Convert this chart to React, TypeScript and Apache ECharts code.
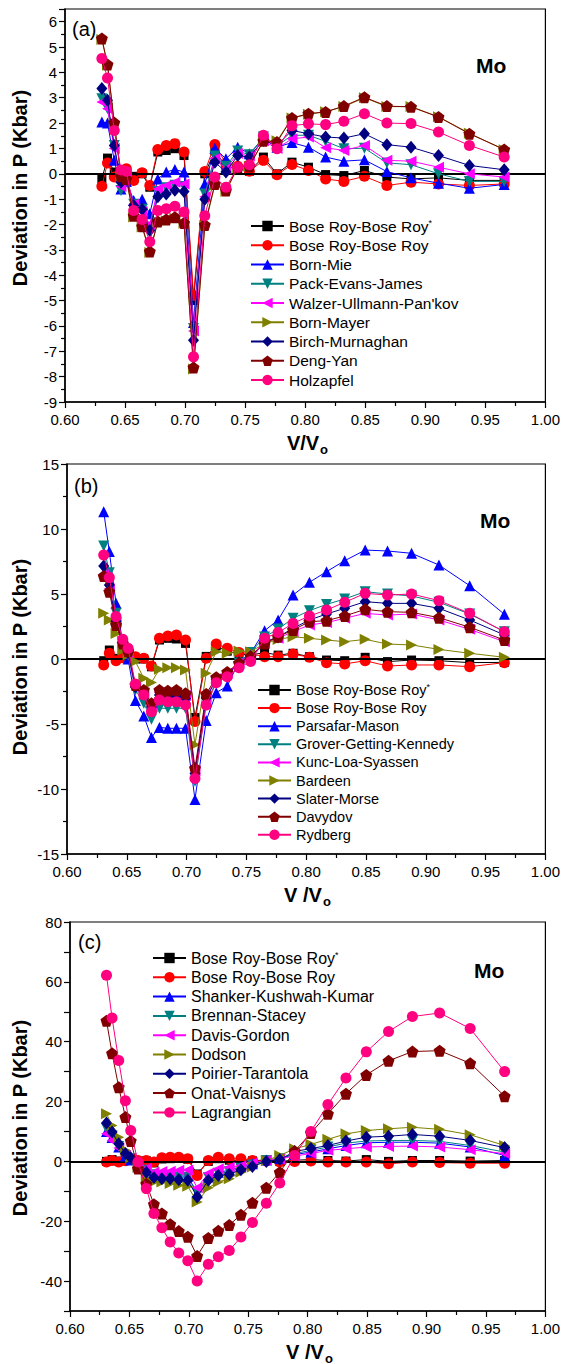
import React, { useEffect, useRef } from "react";
import * as echarts from "echarts";

const FONT = "'Liberation Sans', Arial, sans-serif";

// Shared V/V0 values
const VV0 = [0.6307, 0.6354, 0.641, 0.6466, 0.6511, 0.6572, 0.6642, 0.6706, 0.6773, 0.6843, 0.6915, 0.6991, 0.707, 0.7164, 0.7248, 0.734, 0.7438, 0.7535, 0.7652, 0.7765, 0.789, 0.8027, 0.817, 0.8322, 0.8493, 0.868, 0.8881, 0.911, 0.9367, 0.9657];

// Panel (a)
const A_NAMES = ["Bose Roy-Bose Roy*", "Bose Roy-Bose Roy", "Born-Mie", "Pack-Evans-James", "Walzer-Ullmann-Pan'kov", "Born-Mayer", "Birch-Murnaghan", "Deng-Yan", "Holzapfel"];
const A_BRS = [-0.2, 0.62, 0.07, 0.0, 0.1, -0.1, 0.0, -0.53, 0.86, 0.92, 0.99, 0.72, -5.0, 0.0, 0.9, 0.3, 0.2, 0.1, 0.66, 0.0, 0.46, 0.26, -0.03, -0.07, 0.13, -0.13, -0.2, -0.16, -0.26, -0.26];
const A_BR = [-0.49, 0.43, -0.13, 0.05, 0.2, -0.26, 0.04, -0.46, 0.96, 1.12, 1.19, 0.86, -4.8, 0.09, 1.16, 0.4, 0.3, 0.1, 0.53, -0.04, 0.37, 0.13, -0.2, -0.3, -0.1, -0.46, -0.33, -0.4, -0.46, -0.4];
const A_MIE = [2.04, 2.0, 0.53, -0.6, -0.3, -1.05, -1.0, -1.58, -0.2, 0.07, 0.17, 0.07, -5.86, -0.4, 1.01, 0.59, 1.05, 0.79, 1.38, 1.05, 1.23, 1.05, 0.66, 0.5, 0.55, 0.09, -0.16, -0.37, -0.57, -0.42];
const A_PEJ = [2.96, 2.57, 1.12, -0.66, -0.2, -1.2, -1.4, -2.1, -0.7, -0.55, -0.45, -0.5, -6.1, -0.8, 0.7, 0.3, 0.9, 0.75, 1.45, 1.1, 1.52, 1.52, 1.28, 0.99, 1.01, 0.43, 0.36, 0.0, -0.3, -0.3];
const A_WUP = [2.83, 2.57, 1.0, -0.5, -0.1, -1.2, -1.5, -2.0, -0.6, -0.46, -0.33, -0.4, -6.2, -0.9, 0.6, 0.2, 0.8, 0.7, 1.3, 1.0, 1.38, 1.45, 1.03, 0.92, 1.12, 0.53, 0.5, 0.26, 0.0, -0.13];
const A_BMA = [5.3, 4.28, 2.0, -0.1, -0.25, -1.7, -2.1, -3.1, -1.9, -1.85, -1.75, -1.95, -7.7, -2.05, -0.45, -0.7, 0.25, 0.3, 1.3, 1.3, 2.2, 2.35, 2.45, 2.65, 3.0, 2.65, 2.65, 2.25, 1.6, 0.95];
const A_BIR = [3.36, 2.9, 1.12, -0.33, -0.2, -1.25, -1.4, -2.24, -0.9, -0.8, -0.65, -0.7, -6.56, -1.0, 0.46, 0.07, 0.72, 0.66, 1.32, 1.12, 1.71, 1.58, 1.45, 1.41, 1.58, 1.15, 1.05, 0.72, 0.33, 0.16];
const A_DY = [5.34, 4.31, 2.02, -0.1, -0.2, -1.65, -2.07, -3.06, -1.88, -1.8, -1.71, -1.94, -7.64, -2.02, -0.4, -0.66, 0.26, 0.3, 1.3, 1.25, 2.2, 2.37, 2.44, 2.67, 3.02, 2.67, 2.64, 2.24, 1.58, 0.96];
const A_HOL = [4.55, 3.78, 1.71, 0.15, 0.1, -1.45, -1.8, -2.68, -1.45, -1.38, -1.28, -1.51, -7.22, -1.65, -0.13, -0.53, 0.26, 0.36, 1.52, 0.99, 1.9, 1.97, 1.94, 2.07, 2.37, 2.0, 1.98, 1.65, 1.12, 0.66];

// Panel (b)
const B_NAMES = ["Bose Roy-Bose Roy*", "Bose Roy-Bose Roy", "Parsafar-Mason", "Grover-Getting-Kennedy", "Kunc-Loa-Syassen", "Bardeen", "Slater-Morse", "Davydov", "Rydberg"];
const B_BRS = [-0.13, 0.69, 0.05, 0.2, 0.3, 0.0, 0.0, -0.6, 1.46, 1.59, 1.54, 1.2, -4.5, 0.2, 1.0, 0.6, 0.4, 0.3, 0.5, 0.3, 0.44, 0.18, -0.08, -0.13, 0.13, -0.2, -0.08, -0.13, -0.28, -0.26];
const B_BR = [-0.46, 0.44, -0.13, 0.1, 0.62, 0.18, 0.05, -0.54, 1.59, 1.77, 1.85, 1.46, -4.8, 0.05, 1.15, 0.82, 0.5, 0.4, 0.18, 0.18, 0.38, 0.13, -0.28, -0.38, -0.13, -0.54, -0.46, -0.46, -0.59, -0.28];
const B_PM = [11.33, 8.26, 4.28, 1.3, 0.0, -3.2, -4.38, -6.03, -5.26, -5.33, -5.33, -5.33, -10.8, -4.74, -2.59, -2.08, -0.2, 0.44, 2.18, 3.0, 4.92, 5.9, 6.72, 7.56, 8.38, 8.31, 8.13, 7.23, 5.64, 3.44];
const B_GGK = [8.69, 6.64, 3.51, 1.2, 0.3, -2.38, -3.41, -4.64, -3.79, -3.79, -3.79, -3.79, -9.4, -3.3, -1.8, -1.3, -0.3, 0.5, 1.7, 2.3, 3.13, 3.72, 4.2, 4.62, 5.18, 5.0, 4.85, 4.36, 3.46, 2.1];
const B_KLS = [6.5, 5.4, 2.8, 1.0, 0.4, -2.2, -2.6, -3.6, -2.6, -2.6, -2.6, -2.8, -8.6, -2.9, -1.5, -1.1, -0.3, 0.1, 1.2, 1.6, 2.1, 2.62, 2.8, 3.13, 3.51, 3.38, 3.46, 3.0, 2.28, 1.33];
const B_BAR = [3.51, 3.0, 1.97, 0.69, 0.31, -0.2, -1.49, -1.8, -0.79, -0.67, -0.67, -0.85, -6.6, -1.1, 0.56, 0.44, 0.62, 0.56, 1.2, 1.5, 1.72, 1.59, 1.46, 1.33, 1.51, 1.15, 1.08, 0.74, 0.44, 0.13];
const B_SM = [7.15, 5.69, 2.9, 1.3, 0.5, -2.13, -2.6, -3.7, -2.77, -2.85, -2.85, -3.03, -8.8, -3.0, -1.6, -1.2, -0.3, 0.2, 1.3, 1.7, 2.36, 3.0, 3.46, 3.9, 4.41, 4.28, 4.28, 3.9, 3.0, 1.85];
const B_DAV = [6.38, 5.18, 2.62, 1.2, 0.6, -2.0, -2.38, -3.41, -2.38, -2.44, -2.38, -2.64, -8.4, -2.69, -1.4, -1.0, -0.3, 0.2, 1.2, 1.72, 2.23, 2.87, 2.95, 3.31, 3.82, 3.64, 3.59, 3.18, 2.44, 1.46];
const B_RYD = [8.0, 6.26, 3.26, 1.51, 0.82, -1.92, -2.77, -4.05, -3.15, -3.28, -3.28, -3.54, -9.2, -3.54, -1.82, -1.36, -0.67, -0.2, 1.59, 2.03, 2.74, 3.31, 3.77, 4.36, 5.05, 4.92, 5.0, 4.49, 3.51, 2.1];

// Panel (c)
const C_NAMES = ["Bose Roy-Bose Roy*", "Bose Roy-Bose Roy", "Shanker-Kushwah-Kumar", "Brennan-Stacey", "Davis-Gordon", "Dodson", "Poirier-Tarantola", "Onat-Vaisnys", "Lagrangian"];
const C_BRS = [0.0, 0.6, 0.1, 0.3, 0.5, 0.0, 0.2, -0.5, 0.8, 0.9, 1.0, 0.7, -4.2, 0.0, 0.9, 0.4, 0.3, 0.2, 0.5, 0.0, 0.4, 0.6, 0.3, 0.1, 0.6, 0.0, 0.3, 0.3, 0.1, 0.3];
const C_BR = [-0.2, 0.3, -0.2, 0.2, 0.9, 0.3, 0.3, -0.2, 1.2, 1.4, 1.4, 0.9, -4.7, 0.3, 1.4, 0.9, 0.9, 0.3, 0.1, -0.2, 0.0, 0.1, -0.2, -0.2, -0.2, -0.8, -0.2, -0.4, -0.6, -0.6];
const C_SKK = [10.0, 8.0, 4.8, 1.8, 0.5, -1.8, -3.2, -4.5, -4.8, -4.7, -4.8, -5.0, -10.5, -5.2, -3.6, -3.0, -1.8, -0.8, 0.5, 1.0, 2.3, 3.1, 4.2, 5.3, 6.2, 6.4, 6.4, 6.1, 4.8, 2.0];
const C_BS = [11.0, 8.5, 5.0, 2.0, 0.8, -1.5, -3.0, -4.5, -5.0, -5.0, -5.2, -5.4, -10.5, -5.5, -4.0, -3.5, -2.3, -1.2, 0.2, 0.9, 2.6, 3.7, 4.8, 6.1, 6.8, 7.0, 7.0, 6.7, 5.3, 3.1];
const C_DG = [9.2, 7.0, 4.5, 2.0, 1.0, -1.2, -2.3, -3.6, -3.4, -3.3, -3.0, -2.9, -8.8, -4.0, -2.5, -2.0, -1.5, -0.5, 0.4, 0.8, 1.8, 2.6, 3.7, 4.2, 4.8, 5.0, 5.1, 4.8, 3.9, 2.6];
const C_DOD = [15.9, 12.0, 8.1, 3.7, 1.2, -1.9, -5.8, -6.9, -6.9, -7.4, -8.0, -8.3, -13.6, -8.8, -6.9, -5.8, -3.6, -1.9, 0.3, 2.0, 4.2, 5.7, 7.4, 9.2, 10.3, 10.9, 11.4, 10.7, 8.9, 5.3];
const C_PT = [12.8, 9.8, 5.9, 2.6, 1.2, -0.8, -3.6, -5.4, -5.8, -5.8, -6.1, -6.3, -11.9, -6.3, -4.7, -4.3, -2.8, -1.7, 0.0, 0.6, 3.3, 4.3, 5.3, 6.8, 8.1, 8.4, 9.0, 8.4, 7.0, 4.6];
const C_OV = [47.0, 36.1, 24.8, 14.8, 6.8, -2.4, -7.5, -14.3, -17.4, -21.0, -23.3, -25.2, -31.6, -25.6, -23.2, -21.3, -17.8, -13.8, -8.8, -3.6, 3.4, 9.5, 15.9, 22.6, 28.9, 33.6, 36.7, 37.0, 32.8, 21.8];
const C_LAG = [62.2, 47.9, 33.7, 20.3, 10.3, -0.2, -9.1, -17.4, -22.2, -26.9, -30.6, -33.2, -40.0, -34.4, -31.9, -29.8, -25.3, -20.4, -14.0, -7.2, 2.0, 10.0, 19.0, 27.9, 36.6, 43.4, 48.4, 49.6, 44.4, 30.0];

const PENT = "path://M0,-10L9.51,-3.09L5.88,8.09L-5.88,8.09L-9.51,-3.09Z";
const COLORS = ["#000000", "#ff0000", "#0000ff", "#008080", "#ff00ff", "#808000", "#000080", "#800000", "#ff0080"];
const SYMBOLS = ["rect", "circle", "triangle", "triangle", "triangle", "triangle", "diamond", PENT, "circle"];
const ROTS = [0, 0, 0, 180, 90, -90, 0, 0, 0];
const SIZES: any[] = [9, 11, 11, 11, 11, 11, [11, 13], 12, 11];

const PANELS = [
  { names: A_NAMES, data: [A_BRS, A_BR, A_MIE, A_PEJ, A_WUP, A_BMA, A_BIR, A_DY, A_HOL], grid: { left: 65, top: 9, width: 482, height: 393 }, y: { min: -9, max: 6.5, interval: 1, minor: true, fmt: (v: number) => (Number.isInteger(v) ? String(v) : "") }, legend: { left: 250, top: 218, gap: 3.25, font: 15.5 }, label: "(a)", labelPos: [72, 29], mo: [476, 65], xt: "V/V", xtPos: [303, 443], ytY: 188 },
  { names: B_NAMES, data: [B_BRS, B_BR, B_PM, B_GGK, B_KLS, B_BAR, B_SM, B_DAV, B_RYD], grid: { left: 67, top: 464, width: 480, height: 390 }, y: { min: -15, max: 15, interval: 5, minor: true, fmt: (v: number) => String(v) }, legend: { left: 257, top: 682, gap: 2.1, font: 14.5 }, label: "(b)", labelPos: [74, 486], mo: [480, 520], xt: "V /V", xtPos: [303, 895], ytY: 657 },
  { names: C_NAMES, data: [C_BRS, C_BR, C_SKK, C_BS, C_DG, C_DOD, C_PT, C_OV, C_LAG], grid: { left: 70, top: 922, width: 478, height: 389 }, y: { min: -50, max: 80, interval: 10, minor: false, fmt: (v: number) => (v % 20 === 0 ? String(v) : "") }, legend: { left: 152, top: 950, gap: 3.3, font: 16 }, label: "(c)", labelPos: [78, 942], mo: [474, 970], xt: "V /V", xtPos: [305, 1352], ytY: 1118 },
];

function buildOption() {
  const grid: any[] = [];
  const xAxis: any[] = [];
  const yAxis: any[] = [];
  const series: any[] = [];
  const legend: any[] = [];
  const graphic: any[] = [];

  PANELS.forEach((p, pi) => {
    grid.push({ ...p.grid, show: true, borderColor: "#000", borderWidth: 1.2, backgroundColor: "transparent" });
    xAxis.push({
      gridIndex: pi, type: "value", min: 0.6, max: 1.0, interval: 0.05,
      axisLine: { show: true, onZero: false, lineStyle: { color: "#000", width: 1.5 } },
      axisTick: { show: true, inside: false, length: 6, lineStyle: { color: "#000", width: 1.2 } },
      minorTick: { show: true, splitNumber: 2, length: 4, lineStyle: { color: "#000", width: 1.2 } },
      splitLine: { show: false },
      axisLabel: { fontSize: 15, color: "#000", fontFamily: FONT, margin: 10, formatter: (v: number) => v.toFixed(2) },
    });
    yAxis.push({
      gridIndex: pi, type: "value", min: p.y.min, max: p.y.max, interval: p.y.interval,
      axisLine: { show: true, onZero: false, lineStyle: { color: "#000", width: 1.5 } },
      axisTick: { show: true, inside: false, length: 6, lineStyle: { color: "#000", width: 1.2 } },
      minorTick: { show: p.y.minor, splitNumber: 2, length: 4, lineStyle: { color: "#000", width: 1.2 } },
      splitLine: { show: false },
      axisLabel: { fontSize: 15, color: "#000", fontFamily: FONT, margin: 8, formatter: p.y.fmt },
    });
    p.names.forEach((name, k) => {
      const s: any = {
        type: "line", name, xAxisIndex: pi, yAxisIndex: pi,
        data: VV0.map((x, i) => [x, p.data[k][i]]),
        symbol: SYMBOLS[k], symbolSize: SIZES[k], symbolRotate: ROTS[k], showAllSymbol: true,
        itemStyle: { color: COLORS[k] }, lineStyle: { color: COLORS[k], width: 1 },
        z: 3 + k, silent: true,
      };
      if (k === 0) {
        s.markLine = { silent: true, symbol: ["none", "none"], label: { show: false }, lineStyle: { color: "#000", width: 2, type: "solid" }, data: [{ yAxis: 0 }] };
      }
      series.push(s);
    });
    legend.push({
      data: p.names, orient: "vertical", left: p.legend.left, top: p.legend.top, padding: 0,
      itemWidth: 33, itemHeight: 13, itemGap: p.legend.gap, selectedMode: false,
      formatter: (n: string) => (n.endsWith("*") ? n.slice(0, -1) + "{s|*}" : n),
      textStyle: { fontSize: p.legend.font, fontFamily: FONT, color: "#000", lineHeight: 16, rich: { s: { fontSize: 9, lineHeight: 9, verticalAlign: "top", fontFamily: FONT, color: "#000" } } },
    });
    graphic.push(
      { type: "text", x: p.labelPos[0], y: p.labelPos[1], style: { text: p.label, fontSize: 20, fontFamily: FONT, fill: "#000", verticalAlign: "middle" } },
      { type: "text", x: p.mo[0], y: p.mo[1], style: { text: "Mo", fontSize: 21, fontWeight: "bold", fontFamily: FONT, fill: "#000", verticalAlign: "middle" } },
      { type: "text", x: p.xtPos[0], y: p.xtPos[1], style: { text: p.xt, fontSize: 20, fontWeight: "bold", fontFamily: FONT, fill: "#000", align: "center", verticalAlign: "middle" } },
      { type: "text", x: p.xtPos[0] + (p.xt.length === 3 ? 17 : 20), y: p.xtPos[1] + 6, style: { text: "o", fontSize: 13, fontWeight: "bold", fontFamily: FONT, fill: "#000", align: "left", verticalAlign: "middle" } },
      { type: "text", x: 20, y: p.ytY, rotation: Math.PI / 2, style: { text: "Deviation in P (Kbar)", fontSize: 20, fontWeight: "bold", fontFamily: FONT, fill: "#000", align: "center", verticalAlign: "middle" } }
    );
  });

  return { animation: false, backgroundColor: "#fff", grid, xAxis, yAxis, series, legend, graphic };
}

export default function App() {
  const ref = useRef<HTMLDivElement>(null);
  useEffect(() => {
    if (!ref.current) return;
    const chart = echarts.init(ref.current, undefined, { renderer: "svg" });
    chart.setOption(buildOption() as any);
    return () => chart.dispose();
  }, []);
  return <div ref={ref} style={{ position: "absolute", left: 0, top: 0, width: 563, height: 1364, background: "#fff" }} />;
}
